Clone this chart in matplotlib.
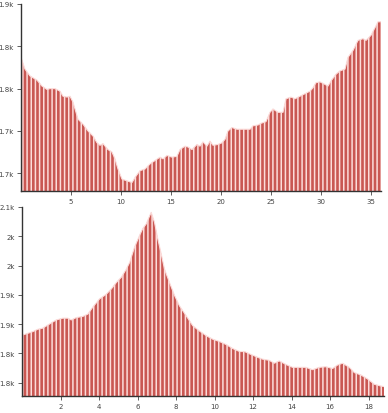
import numpy as np
import matplotlib
matplotlib.use("Agg")
import matplotlib.pyplot as plt

# top series
top_x = [0.0, 0.4, 0.9, 1.6, 2.1, 2.6, 2.9, 3.4, 3.9, 4.2, 4.6, 4.9, 5.2, 5.7, 6.2,
         6.7, 7.2, 7.6, 7.9, 8.2, 8.7, 9.1, 9.4, 9.7, 10.1, 10.6, 11.1, 11.4, 11.9,
         12.4, 12.9, 13.4, 13.9, 14.2, 14.6, 15.1, 15.6, 15.9, 16.4, 16.7, 17.1,
         17.6, 17.9, 18.2, 18.6, 18.9, 19.2, 19.7, 20.1, 20.4, 20.7, 21.1, 21.6,
         22.2, 22.9, 23.2, 23.7, 24.0, 24.5, 24.9, 25.2, 25.7, 26.2, 26.5, 27.0,
         27.4, 27.9, 28.4, 28.9, 29.2, 29.5, 29.9, 30.4, 30.7, 31.0, 31.5, 31.9,
         32.4, 32.7, 33.2, 33.7, 34.2, 34.5, 35.0, 35.4, 35.7, 36.0]
top_y = [1837, 1823, 1815, 1810, 1803, 1799, 1800, 1800, 1797, 1791, 1790, 1791, 1784,
         1764, 1758, 1750, 1744, 1736, 1733, 1735, 1728, 1725, 1717, 1705, 1693,
         1691, 1689, 1695, 1703, 1705, 1711, 1715, 1719, 1717, 1721, 1719, 1720,
         1728, 1732, 1731, 1728, 1734, 1732, 1737, 1732, 1738, 1733, 1734, 1736,
         1740, 1750, 1754, 1752, 1752, 1752, 1756, 1757, 1759, 1761, 1772, 1776,
         1772, 1772, 1788, 1790, 1788, 1791, 1794, 1797, 1801, 1807, 1808, 1805,
         1803, 1809, 1817, 1821, 1823, 1837, 1845, 1857, 1859, 1857, 1863, 1872,
         1879, 1879]

# bottom series
bot_x = [0.0, 0.2, 0.56, 0.82, 1.08, 1.43, 1.78, 2.12, 2.38, 2.56, 2.82, 3.16, 3.42,
         3.68, 4.03, 4.38, 4.64, 4.9, 5.16, 5.42, 5.6, 5.84, 6.1, 6.27, 6.45, 6.71,
         6.88, 7.05, 7.23, 7.4, 7.66, 7.92, 8.18, 8.53, 8.87, 9.22, 9.57, 9.91,
         10.26, 10.6, 10.95, 11.3, 11.56, 11.82, 12.25, 12.49, 12.84, 13.1, 13.36,
         13.7, 14.05, 14.4, 14.74, 15.09, 15.44, 15.78, 16.13, 16.39, 16.65, 17.0,
         17.26, 17.6, 17.95, 18.3, 18.64, 18.82]
bot_y = [1881, 1883, 1887, 1891, 1893, 1900, 1907, 1910, 1910, 1907, 1911, 1913, 1917,
         1929, 1943, 1951, 1960, 1971, 1980, 1994, 2006, 2031, 2051, 2063, 2071,
         2091, 2074, 2046, 2020, 1994, 1971, 1949, 1931, 1914, 1897, 1888, 1880,
         1874, 1870, 1865, 1858, 1853, 1853, 1849, 1843, 1840, 1838, 1833, 1837,
         1831, 1826, 1826, 1826, 1822, 1826, 1827, 1824, 1830, 1833, 1826, 1817,
         1813, 1806, 1797, 1794, 1793]

top_ticks = [1700, 1750, 1800, 1850, 1900]
top_labels = ["1.7k", "1.7k", "1.8k", "1.8k", "1.9k"]
top_xticks = [5, 10, 15, 20, 25, 30, 35]
bot_ticks = [1800, 1850, 1900, 1950, 2000, 2050, 2100]
bot_labels = ["1.8k", "1.8k", "1.9k", "1.9k", "2k", "2k", "2.1k"]
bot_xticks = [2, 4, 6, 8, 10, 12, 14, 16, 18]

red = "#c95752"
pale = "#fcdcda"
plt.rcParams["hatch.linewidth"] = 1.1

fig = plt.figure(figsize=(3.88, 4.14), dpi=100)
ax1 = fig.add_axes([21/388, 1 - 192/414, 360/388, 187/414])
ax2 = fig.add_axes([22/388, 1 - 397/414, 362/388, 189/414])


def draw(ax, x, y, ymin, ymax, xmax, yt, yl, xt):
    ax.fill_between(x, y, ymin, facecolor=red, edgecolor=pale, hatch="||||", linewidth=0)
    ax.plot(x, y, color=pale, lw=0.8)
    ax.set_xlim(0, xmax)
    ax.set_ylim(ymin, ymax)
    ax.set_yticks(yt)
    ax.set_yticklabels(yl)
    ax.set_xticks(xt)
    for s in ["top", "right"]:
        ax.spines[s].set_visible(False)
    for s in ["left", "bottom"]:
        ax.spines[s].set_color("#333333")
        ax.spines[s].set_linewidth(1.0)
    ax.tick_params(labelsize=5, colors="#444444", length=3, width=0.6, pad=2)


draw(ax1, top_x, top_y, 1679, 1900, 36, top_ticks, top_labels, top_xticks)
draw(ax2, bot_x, bot_y, 1777, 2100, 18.8, bot_ticks, bot_labels, bot_xticks)

fig.savefig("out.png", dpi=100)
